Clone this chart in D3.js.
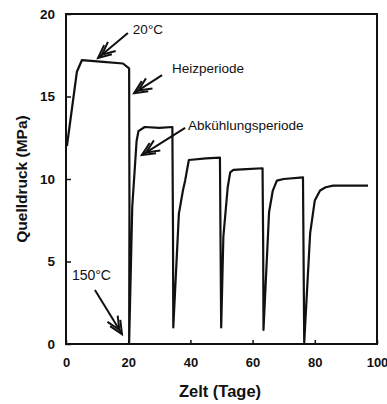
<!DOCTYPE html>
<html>
<head>
<meta charset="utf-8">
<script src="https://cdn.jsdelivr.net/npm/d3@7"></script>
<style>
  body { margin: 0; background: #fff; }
  svg { display: block; font-family: "Liberation Sans", Arial, sans-serif; }
</style>
</head>
<body>
<svg id="drawing_region"></svg>
<script>
// Zeit (Tage) / Quelldruck (MPa)
const days = [0.3, 3.5, 5.1, 12, 18.3, 20.3, 20.4, 20.3, 21.3, 22.7, 23.3, 25.3, 30, 34.2,
  34.4, 34.5, 36.3, 37.6, 38.3, 39.5, 45, 49.5,
  49.7, 49.9, 50.6, 52.0, 52.8, 53.8, 58, 63.2,
  63.4, 63.5, 65.3, 66.5, 67.8, 70, 76.2,
  76.4, 76.6, 78.5, 80.0, 81.7, 83.5, 85.9, 97.1];
const pressure = [12.0, 16.5, 17.2, 17.1, 17.0, 16.7, 8.0, 0.1, 8.3, 12.3, 12.9, 13.15, 13.1, 13.15,
  7.0, 1.0, 7.9, 9.3, 9.9, 11.15, 11.25, 11.3,
  6.0, 1.0, 6.5, 9.5, 10.4, 10.55, 10.6, 10.65,
  6.0, 0.85, 8.0, 9.3, 9.9, 10.0, 10.1,
  5.0, 0.1, 6.7, 8.7, 9.3, 9.5, 9.6, 9.6];

const x_ticks = [0, 20, 40, 60, 80, 100];
const y_ticks = [0, 5, 10, 15, 20];

// annotation labels and arrows in data units
const note_labels = ['20°C', 'Heizperiode', 'Abkühlungsperiode', '150°C'];
const note_text_x = [21.5, 34.1, 39.2, 1.9];
const note_text_y = [19.1, 16.7, 13.27, 4.2];
const arrow_from = [[19.9, 18.85], [30.9, 16.3], [38.3, 13.1], [9.3, 3.27]];
const arrow_to = [[10.3, 17.33], [21.9, 15.2], [24.4, 11.45], [18.0, 0.6]];

const data = days.map((d, i) => ({x: d, y: pressure[i]}));

let config = {
  parent: '#drawing_region',
  width: 387,
  height: 404,
  margin: {top: 14, right: 10, bottom: 60, left: 66},
};

class SwellChart {

  constructor( config, data ) {
    this.config = config;
    this.data = data;
    this.init();
  }

  init() {
    let self = this;

    self.svg = d3.select( self.config.parent )
      .attr('width', self.config.width)
      .attr('height', self.config.height);

    self.chart = self.svg.append('g')
      .attr('transform', `translate(${self.config.margin.left}, ${self.config.margin.top})`);

    self.chart_width = self.config.width - self.config.margin.left - self.config.margin.right;
    self.chart_height = self.config.height - self.config.margin.top - self.config.margin.bottom;

    self.x_scale = d3.scaleLinear()
      .domain([0, 100])
      .range([0, self.chart_width]);

    self.y_scale = d3.scaleLinear()
      .domain([0, 20])
      .range([self.chart_height, 0]);

    self.x_axis = d3.axisBottom( self.x_scale )
      .tickValues(x_ticks).tickSizeInner(-4).tickSizeOuter(0).tickPadding(14);

    self.y_axis = d3.axisLeft( self.y_scale )
      .tickValues(y_ticks).tickSizeInner(-5).tickSizeOuter(0).tickPadding(11);

    self.line = d3.line()
      .x( d => self.x_scale(d.x) )
      .y( d => self.y_scale(d.y) );
  }

  render() {
    let self = this;
    const ink = '#111';

    self.chart.append('g')
      .attr('transform', `translate(0, ${self.chart_height})`)
      .call(self.x_axis)
      .call(g => g.select('.domain').remove())
      .call(g => g.selectAll('line').attr('stroke', ink).attr('stroke-width', 1.5))
      .call(g => g.selectAll('text')
        .attr('fill', ink).attr('font-size', 13).attr('font-weight', 'bold')
        .attr('font-family', '"Liberation Sans", Arial, sans-serif'));

    self.chart.append('g')
      .call(self.y_axis)
      .call(g => g.select('.domain').remove())
      .call(g => g.selectAll('line').attr('stroke', ink).attr('stroke-width', 1.5))
      .call(g => g.selectAll('text')
        .attr('fill', ink).attr('font-size', 13.5).attr('font-weight', 'bold')
        .attr('font-family', '"Liberation Sans", Arial, sans-serif'));

    // frame
    self.chart.append('rect')
      .attr('width', self.chart_width)
      .attr('height', self.chart_height)
      .attr('fill', 'none')
      .attr('stroke', ink)
      .attr('stroke-width', 2);

    self.chart.append('path')
      .attr('d', self.line(self.data))
      .attr('fill', 'none')
      .attr('stroke', ink)
      .attr('stroke-width', 2.2)
      .attr('stroke-linejoin', 'round');

    // annotations
    note_labels.forEach( (label, i) => {
      self.chart.append('text')
        .attr('x', self.x_scale(note_text_x[i]))
        .attr('y', self.y_scale(note_text_y[i]))
        .attr('dy', '0.35em')
        .attr('font-size', i == 3 ? 14 : 13.5)
        .attr('fill', ink)
        .text(label);

      const x0 = self.x_scale(arrow_from[i][0]), y0 = self.y_scale(arrow_from[i][1]);
      const x1 = self.x_scale(arrow_to[i][0]), y1 = self.y_scale(arrow_to[i][1]);
      const ang = Math.atan2(y1 - y0, x1 - x0);
      const pt = (back, side) => [
        x1 - back * Math.cos(ang) - side * Math.sin(ang),
        y1 - back * Math.sin(ang) + side * Math.cos(ang)
      ];

      self.chart.append('line')
        .attr('x1', x0).attr('y1', y0).attr('x2', x1).attr('y2', y1)
        .attr('stroke', ink).attr('stroke-width', 2);

      // feathered head, two chevrons
      [0, 5].forEach( off => {
        const a = pt(off + 13, 6), b = pt(off, 0), c = pt(off + 13, -6);
        self.chart.append('path')
          .attr('d', `M${a}L${b}L${c}`)
          .attr('fill', 'none')
          .attr('stroke', ink)
          .attr('stroke-width', 2);
      });
    });

    // axis titles
    self.svg.append('text')
      .attr('x', 220)
      .attr('y', 397)
      .attr('text-anchor', 'middle')
      .attr('font-size', 16.5)
      .attr('font-weight', 'bold')
      .attr('fill', ink)
      .text('Zelt (Tage)');

    self.svg.append('text')
      .attr('transform', 'translate(27, 179) rotate(-90)')
      .attr('text-anchor', 'middle')
      .attr('font-size', 15.5)
      .attr('font-weight', 'bold')
      .attr('fill', ink)
      .text('Quelldruck (MPa)');
  }
}

const swell_chart = new SwellChart( config, data );
swell_chart.render();
</script>
</body>
</html>
